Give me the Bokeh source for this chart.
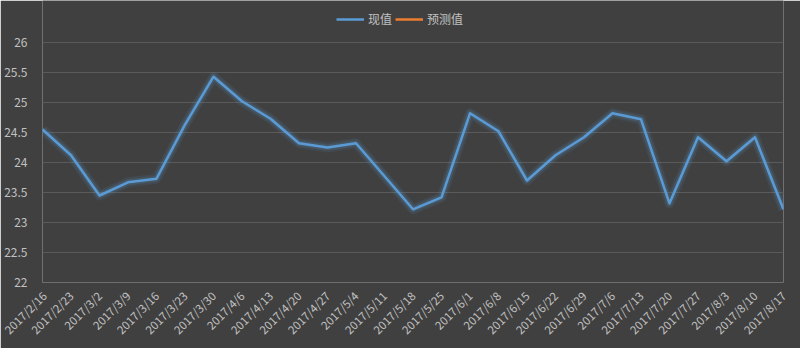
from bokeh.plotting import figure
from bokeh.models import FixedTicker, Range1d, Legend, LegendItem, ColumnDataSource
from bokeh.embed import file_html
from bokeh.resources import INLINE
import math

dates = ["2017/2/16", "2017/2/23", "2017/3/2", "2017/3/9", "2017/3/16", "2017/3/23",
         "2017/3/30", "2017/4/6", "2017/4/13", "2017/4/20", "2017/4/27", "2017/5/4",
         "2017/5/11", "2017/5/18", "2017/5/25", "2017/6/1", "2017/6/8", "2017/6/15",
         "2017/6/22", "2017/6/29", "2017/7/6", "2017/7/13", "2017/7/20", "2017/7/27",
         "2017/8/3", "2017/8/10", "2017/8/17"]
current = [24.55, 24.12, 23.45, 23.67, 23.73, 24.63, 25.43, 25.02, 24.73, 24.32,
           24.25, 24.32, 23.77, 23.22, 23.42, 24.82, 24.52, 23.70, 24.12, 24.42,
           24.82, 24.72, 23.32, 24.42, 24.02, 24.42, 23.22]
predicted = [float("nan")] * len(dates)  # no predicted values shown
y_ticks = [22, 22.5, 23, 23.5, 24, 24.5, 25, 25.5, 26]
y_labels = ["22", "22.5", "23", "23.5", "24", "24.5", "25", "25.5", "26"]

BG = "#404040"
BLUE = "#5b9bd5"
ORANGE = "#ed7d31"
TXT = "#c0c0c0"
FONT = "Noto Sans CJK SC"

xs = list(range(len(dates)))
src = ColumnDataSource(dict(x=xs, y=current))
src_pred = ColumnDataSource(dict(x=xs, y=predicted))

# frame spans from canvas top; y range extended so that 26 sits 42px below top
p = figure(width=800, height=348, output_backend="svg", toolbar_location=None,
           x_range=Range1d(0, len(dates) - 1), y_range=Range1d(22, 26.7),
           min_border_left=42, min_border_right=17, min_border_top=0, min_border_bottom=66)
p.background_fill_color = BG
p.border_fill_color = BG
p.outline_line_color = None

# glow
p.line("x", "y", source=src, line_color=BLUE, line_width=10, line_alpha=0.10, line_join="round")
p.line("x", "y", source=src, line_color=BLUE, line_width=6, line_alpha=0.18, line_join="round")
r1 = p.line("x", "y", source=src, line_color=BLUE, line_width=2.5, line_join="round")
r2 = p.line("x", "y", source=src_pred, line_color=ORANGE, line_width=2.5)

p.xgrid.visible = False
p.ygrid.ticker = FixedTicker(ticks=y_ticks[1:])
p.ygrid.grid_line_color = "#5a5a5a"
p.ygrid.grid_line_width = 1

p.yaxis.ticker = FixedTicker(ticks=y_ticks)
p.yaxis.major_label_overrides = {t: l for t, l in zip(y_ticks, y_labels)}
p.xaxis.ticker = FixedTicker(ticks=xs)
p.xaxis.major_label_overrides = {i: d for i, d in enumerate(dates)}
p.xaxis.major_label_orientation = math.pi / 4
for ax in (p.xaxis, p.yaxis):
    ax.axis_line_color = None
    ax.major_tick_line_color = None
    ax.minor_tick_line_color = None
    ax.major_label_text_color = TXT
    ax.major_label_text_font = FONT
    ax.major_label_text_font_size = "12px"
p.xaxis.major_label_text_font_size = "11.5px"
p.yaxis.major_label_standoff = 9
p.xaxis.major_label_standoff = 5

legend = Legend(items=[LegendItem(label="现值", renderers=[r1]),
                       LegendItem(label="预测值", renderers=[r2])],
                orientation="horizontal", location=(294, 255),
                background_fill_alpha=0, border_line_color=None,
                label_text_color=TXT, label_text_font=FONT, label_text_font_size="12px",
                glyph_width=28, glyph_height=14, label_standoff=4, spacing=3, padding=0,
                margin=0)
p.add_layout(legend, "center")

open("out.html", "w").write(file_html(p, INLINE))
